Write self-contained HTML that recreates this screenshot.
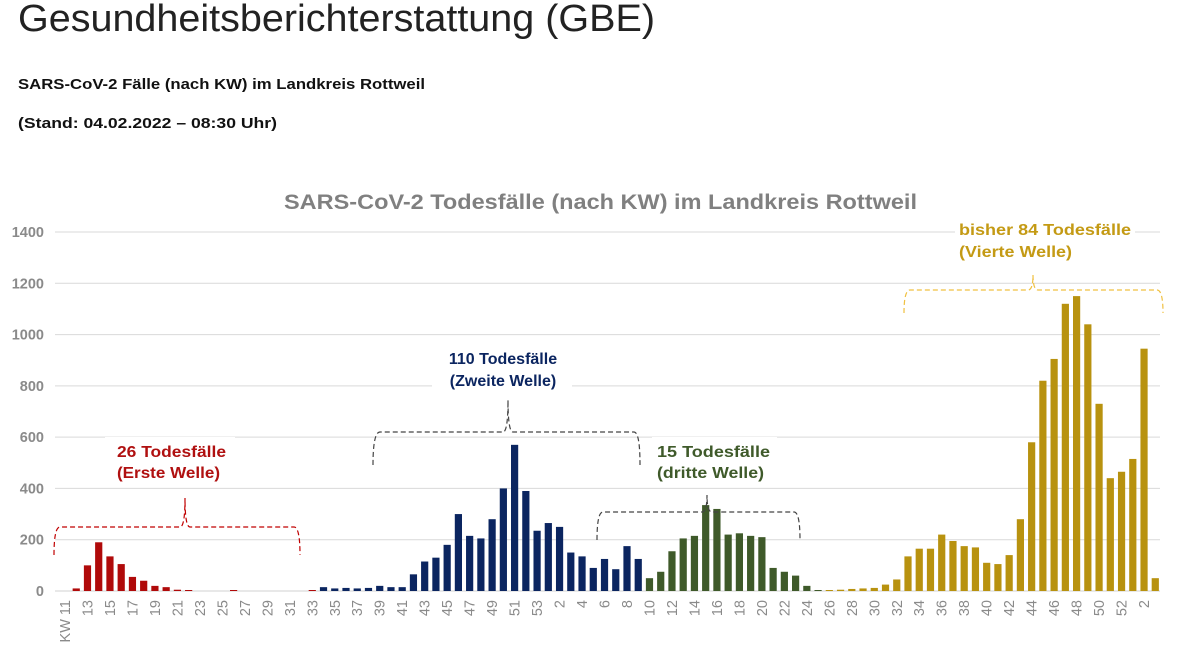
<!DOCTYPE html>
<html><head><meta charset="utf-8"><style>
body{margin:0;width:1190px;height:652px;background:#fff;overflow:hidden;font-family:"Liberation Sans",sans-serif}
</style></head><body>
<svg id="s" width="1190" height="652" xmlns="http://www.w3.org/2000/svg" font-family="Liberation Sans, sans-serif">
<text x="18" y="31" font-size="38" fill="#222" textLength="637" lengthAdjust="spacingAndGlyphs">Gesundheitsberichterstattung (GBE)</text>
<text x="18" y="89" font-size="15" font-weight="bold" fill="#111" textLength="407" lengthAdjust="spacingAndGlyphs">SARS-CoV-2 Fälle (nach KW) im Landkreis Rottweil</text>
<text x="18" y="128" font-size="15" font-weight="bold" fill="#111" textLength="259" lengthAdjust="spacingAndGlyphs">(Stand: 04.02.2022 – 08:30 Uhr)</text>
<text x="284" y="209" font-size="21" font-weight="bold" fill="#808080" textLength="633" lengthAdjust="spacingAndGlyphs">SARS-CoV-2 Todesfälle (nach KW) im Landkreis Rottweil</text>
<g id="grid"></g>
<g id="bars"></g>
<g id="ylbl" font-size="14.5" font-weight="bold" fill="#8a8a8a"></g>
<g id="lbl" font-size="14.5" fill="#8a8a8a"></g>
<g fill="none" stroke-width="1.2" stroke-dasharray="5,3">
<path d="M54 555 Q54 527 60 527 L180 527 Q185 527 185 498 Q185 527 190 527 L294 527 Q300 527 300 555" stroke="#c00000"/>
<path d="M373 465 Q373 432 380 432 L503 432 Q508 432 508 400 Q508 432 513 432 L634 432 Q640 432 640 465" stroke="#444"/>
<path d="M597 540 Q597 512 603 512 L702 512 Q707 512 707 495 Q707 512 712 512 L794 512 Q800 512 800 540" stroke="#444"/>
<path d="M904 313 Q904 290 910 290 L1028 290 Q1033 290 1033 275 Q1033 290 1038 290 L1157 290 Q1163 290 1163 313" stroke="#f0c040"/>
</g>
<g font-size="16" font-weight="bold">
<rect x="105" y="437" width="130" height="44" fill="#fff"/>
<text x="117" y="457" fill="#b01010" textLength="109" lengthAdjust="spacingAndGlyphs">26 Todesfälle</text>
<text x="117" y="478" fill="#b01010" textLength="103" lengthAdjust="spacingAndGlyphs">(Erste Welle)</text>
<rect x="432" y="345" width="140" height="44" fill="#fff"/>
<text x="503" y="364" fill="#0b2560" text-anchor="middle">110 Todesfälle</text>
<text x="503" y="386" fill="#0b2560" text-anchor="middle">(Zweite Welle)</text>
<rect x="652" y="437" width="125" height="44" fill="#fff"/>
<text x="657" y="457" fill="#3f5a2a" textLength="113" lengthAdjust="spacingAndGlyphs">15 Todesfälle</text>
<text x="657" y="478" fill="#3f5a2a" textLength="107" lengthAdjust="spacingAndGlyphs">(dritte Welle)</text>
<rect x="955" y="215" width="180" height="44" fill="#fff"/>
<text x="959" y="235" fill="#c49a14" textLength="172" lengthAdjust="spacingAndGlyphs">bisher 84 Todesfälle</text>
<text x="959" y="257" fill="#c49a14" textLength="113" lengthAdjust="spacingAndGlyphs">(Vierte Welle)</text>
</g>
</svg>
<script>
var NS="http://www.w3.org/2000/svg";
function el(p,t,a,txt){var e=document.createElementNS(NS,t);for(var k in a)e.setAttribute(k,a[k]);if(txt!==undefined)e.textContent=txt;document.getElementById(p).appendChild(e);}
var y0=591,k=359/1400;
for(var v=0;v<=1400;v+=200){var y=y0-v*k;
 if(v>0)el("grid","line",{x1:55,x2:1160,y1:y,y2:y,stroke:"#d9d9d9","stroke-width":1});
 el("ylbl","text",{x:44,y:y+5,"text-anchor":"end"},String(v));}
el("grid","line",{x1:55,x2:1160,y1:y0,y2:y0,stroke:"#d0d0d0","stroke-width":1});
var red=[0,10,100,190,135,105,55,40,20,15,5,3,0,0,0,3,0,0,0,0,0,0,3];
var blue=[15,10,12,10,12,20,15,15,65,115,130,180,300,215,205,280,400,570,390,235,265,250,150,135,90,125,85,175,125];
var green=[50,75,155,205,215,335,320,220,225,215,210,90,75,60,20,3];
var gold=[3,5,8,10,12,25,45,135,165,165,220,195,175,170,110,105,140,280,580,820,905,1120,1150,1040,730,440,465,515,945,50];
var all=[],col=[];
[[red,"#b00a0a"],[blue,"#0b2560"],[green,"#3f5a2a"],[gold,"#b8920f"]].forEach(function(p){p[0].forEach(function(v){all.push(v);col.push(p[1]);});});
var s=11.24;
all.forEach(function(v,i){var h=v*k;if(h<1&&v>0)h=1;if(v>0)el("bars","rect",{x:65+i*s-3.6,y:y0-h,width:7.2,height:h,fill:col[i]});});
for(var i=0;i<all.length;i+=2){var lab;
 if(i<=42)lab=String(11+i);else if(i<=94)lab=String(i-42);else lab=String(i-94);
 if(i==0)lab="KW 11";
 var x=65+i*s+5,y=600;
 el("lbl","text",{x:x,y:y,transform:"rotate(-90 "+x+" "+y+")","text-anchor":"end"},lab);}
</script>
</body></html>
